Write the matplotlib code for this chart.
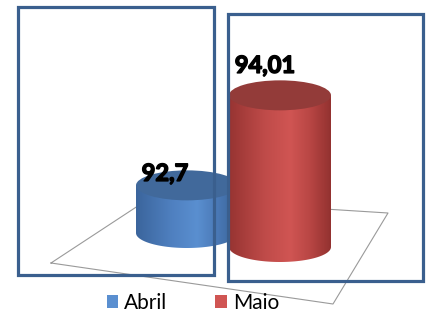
import numpy as np
import matplotlib
matplotlib.use("Agg")
import matplotlib.pyplot as plt
import matplotlib.patheffects as pe
from matplotlib.patches import Rectangle, Ellipse, PathPatch, Patch
from matplotlib.path import Path
from matplotlib.colors import LinearSegmentedColormap

# data
categories = ["Abril", "Maio"]
values = [92.7, 94.01]
labels = ["92,7", "94,01"]

# styles
side_colors = [["#3b659c", "#4f80c0", "#5a8fd0", "#4a79b6", "#3a6398"],
               ["#973432", "#bf4b49", "#d05553", "#b84644", "#933230"]]
top_colors = ["#41699b", "#933b39"]
frame_color = "#3a5f8e"
W, H = 427, 313

# pixel layout of the pseudo-3D plot
X0, PX_X = 187, 93          # pixel x of first category, pixels per category
BASE_PX, PX_Y = 233, 79.4   # pixel y of axis minimum (back row), pixels per unit
AXIS_MIN = 92.1
half_w = 51 / PX_X
ell_h = 15 / PX_Y
depth_px = [0, 14]          # perspective drop of each column
label_offsets = [(-22, 12), (-15, 30)]  # pixels

fig = plt.figure(figsize=(W / 100, H / 100), dpi=100)

# background axes: floor
bg = fig.add_axes([0, 0, 1, 1], zorder=0)
bg.set_xlim(0, W)
bg.set_ylim(H, 0)
bg.axis("off")
floor = [(51, 263), (150, 198), (388, 213), (333, 304), (51, 263)]
fx, fy = zip(*floor)
bg.plot(fx, fy, color="#9a9a9a", lw=0.8)

# data axes
ax = fig.add_axes([0, 0, 1, 1], zorder=1)
ax.patch.set_alpha(0)
xlim = (-X0 / PX_X, (W - X0) / PX_X)
ylim = (AXIS_MIN - (H - BASE_PX) / PX_Y, AXIS_MIN + BASE_PX / PX_Y)
ax.axis("off")

for i, v in enumerate(values):
    c = i
    b = AXIS_MIN - depth_px[i] / PX_Y
    t = v - depth_px[i] / PX_Y
    th = np.linspace(np.pi, 2 * np.pi, 60)
    pts = [(c - half_w, t), (c - half_w, b)]
    pts += list(zip(c + half_w * np.cos(th), b + ell_h * np.sin(th)))
    pts += [(c + half_w, b), (c + half_w, t), (c - half_w, t)]
    side = PathPatch(Path(pts), facecolor="none", edgecolor="none")
    ax.add_patch(side)
    cmap = LinearSegmentedColormap.from_list(
        "c%d" % i, list(zip([0, 0.35, 0.6, 0.8, 1], side_colors[i])))
    grad = np.linspace(0, 1, 200).reshape(1, -1)
    im = ax.imshow(grad, cmap=cmap, aspect="auto",
                   extent=[c - half_w, c + half_w, b - ell_h, t],
                   zorder=2 + i)
    im.set_clip_path(side)
    ax.add_patch(Ellipse((c, t), 2 * half_w, 2 * ell_h,
                         facecolor=top_colors[i], edgecolor="none",
                         zorder=2 + i))
    ax.annotate(labels[i], (c, t), xytext=label_offsets[i],
                textcoords="offset pixels", ha="center", va="center",
                fontsize=17, fontweight="bold", family="Lato",
                color="black", zorder=10,
                path_effects=[pe.withStroke(linewidth=1.1, foreground="black")])

ax.set_xlim(*xlim)
ax.set_ylim(*ylim)

# overlay axes: frames
fg = fig.add_axes([0, 0, 1, 1], zorder=2)
fg.patch.set_alpha(0)
fg.set_xlim(0, W)
fg.set_ylim(H, 0)
fg.axis("off")
for (x0, y0, x1, y1) in [(18, 7, 214, 275), (228, 14, 423, 281)]:
    fg.add_patch(Rectangle((x0, y0), x1 - x0, y1 - y0, fill=False,
                           edgecolor=frame_color, lw=2.3))

handles = [Patch(facecolor=side_colors[i][2], edgecolor="none")
           for i in range(len(categories))]
fig.legend(handles, categories, loc="center",
           bbox_to_anchor=(193 / W, 1 - 303 / H), ncol=2, frameon=False,
           prop={"family": "Lato", "size": 15}, handlelength=0.55,
           handleheight=0.55, handletextpad=0.3, columnspacing=2.3)

fig.savefig("out.png", dpi=100)
